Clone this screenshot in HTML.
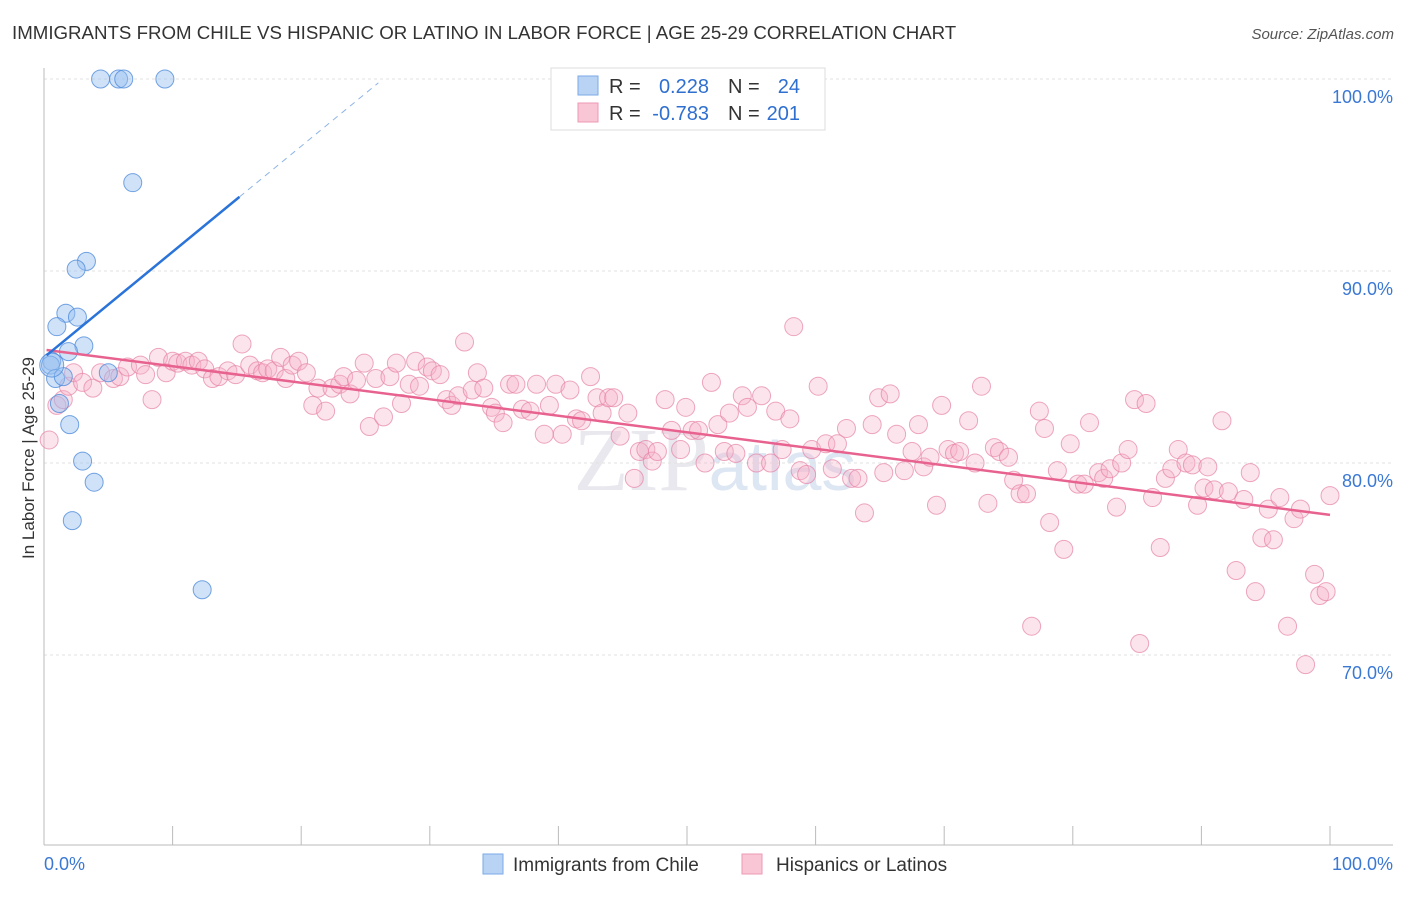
<!DOCTYPE html>
<html><head><meta charset="utf-8"><style>
body{margin:0;background:#fff;width:1406px;height:892px;overflow:hidden;font-family:"Liberation Sans",sans-serif}
</style></head><body>
<svg id="chart" width="1406" height="892" xmlns="http://www.w3.org/2000/svg" font-family="Liberation Sans, sans-serif">
<text x="12" y="39" font-size="18.7" fill="#333">IMMIGRANTS FROM CHILE VS HISPANIC OR LATINO IN LABOR FORCE | AGE 25-29 CORRELATION CHART</text>
<text x="1394" y="39" font-size="15" fill="#555" text-anchor="end" font-style="italic">Source: ZipAtlas.com</text>
<text x="715" y="490" font-size="90" fill="#e8e8ee" text-anchor="middle" font-family="Liberation Serif, serif">ZIP<tspan fill="#dde6f3" font-family="Liberation Sans, sans-serif" font-size="70">atlas</tspan></text>
<g id="grid"></g>
<g id="axes"></g>
<g id="marks"></g>
<text transform="translate(34,458) rotate(-90)" font-size="17" fill="#333" text-anchor="middle">In Labor Force | Age 25-29</text>
<g>
<rect x="551" y="68" width="274" height="62" fill="#fff" stroke="#ddd"/>
<rect x="578" y="76" width="20" height="19" fill="#b9d3f5" stroke="#7aa9e6"/>
<rect x="578" y="103" width="20" height="19" fill="#f8c6d5" stroke="#ee9ab5"/>
<text x="609" y="93" font-size="20" fill="#333">R =</text>
<text x="709" y="93" font-size="20" fill="#2f6fd0" text-anchor="end">0.228</text>
<text x="728" y="93" font-size="20" fill="#333">N =</text>
<text x="800" y="93" font-size="20" fill="#2f6fd0" text-anchor="end">24</text>
<text x="609" y="120" font-size="20" fill="#333">R =</text>
<text x="709" y="120" font-size="20" fill="#2f6fd0" text-anchor="end">-0.783</text>
<text x="728" y="120" font-size="20" fill="#333">N =</text>
<text x="800" y="120" font-size="20" fill="#2f6fd0" text-anchor="end">201</text>
</g>
<g>
<rect x="483" y="854" width="20" height="20" fill="#b9d3f5" stroke="#7aa9e6"/>
<text x="513" y="871" font-size="19" fill="#333">Immigrants from Chile</text>
<rect x="742" y="854" width="20" height="20" fill="#f8c6d5" stroke="#ee9ab5"/>
<text x="776" y="871" font-size="19" fill="#333">Hispanics or Latinos</text>
</g>
</svg>
<script>
const yTicks=[100,90,80,70];
const yTickLabels=["100.0%","90.0%","80.0%","70.0%"];
const xTicks=[0,10,20,30,40,50,60,70,80,90,100];
const xEndLabels=["0.0%","100.0%"];
const blueX=[4.4,5.8,6.2,9.4,6.9,3.3,2.5,1.7,2.6,1.0,3.1,1.9,0.6,0.5,0.9,1.5,5.0,2.0,3.0,3.9,2.2,12.3,0.6,1.2];
const blueY=[100,100,100,100,94.6,90.5,90.1,87.8,87.6,87.1,86.1,85.8,85.3,85.1,84.4,84.5,84.7,82.0,80.1,79.0,77.0,73.4,85.1,83.1];
const pinkX=[0.4,1.0,1.5,1.9,2.3,3.0,3.8,4.4,5.4,5.9,6.5,7.5,7.9,8.4,8.9,9.5,10.0,10.4,11.0,11.5,12.0,12.5,13.1,13.6,14.3,14.9,15.4,16.0,16.6,17.0,17.4,17.9,18.4,18.8,19.3,19.8,20.4,20.9,21.3,21.9,22.4,23.0,23.3,23.8,24.3,24.9,25.3,25.8,26.4,26.9,27.4,27.8,28.4,28.9,29.2,29.8,30.2,30.8,31.3,31.7,32.2,32.7,33.3,33.7,34.2,34.8,35.1,35.7,36.2,36.7,37.2,37.8,38.3,38.9,39.3,39.8,40.3,40.9,41.4,41.8,42.5,43.0,43.4,43.9,44.3,44.8,45.4,45.9,46.3,46.8,47.3,47.7,48.3,48.8,49.5,49.9,50.4,50.9,51.4,51.9,52.4,52.9,53.3,53.8,54.3,54.7,55.4,55.8,56.5,56.9,57.4,58.0,58.3,58.8,59.3,59.7,60.2,60.8,61.3,61.7,62.4,62.8,63.3,63.8,64.4,64.9,65.3,65.8,66.3,66.9,67.5,68.0,68.4,68.9,69.4,69.8,70.3,70.8,71.2,71.9,72.4,72.9,73.4,73.9,74.3,75.0,75.4,75.9,76.4,76.8,77.4,77.8,78.2,78.8,79.3,79.8,80.4,80.9,81.3,82.0,82.4,82.9,83.4,83.8,84.3,84.8,85.2,85.7,86.2,86.8,87.2,87.7,88.2,88.8,89.3,89.7,90.2,90.5,91.0,91.6,92.1,92.7,93.3,93.8,94.2,94.7,95.2,95.6,96.1,96.7,97.2,97.7,98.1,98.8,99.2,99.7,100];
const pinkY=[81.2,83.0,83.3,84.0,84.7,84.2,83.9,84.7,84.4,84.5,85.0,85.1,84.6,83.3,85.5,84.7,85.3,85.2,85.3,85.1,85.3,84.9,84.4,84.5,84.8,84.6,86.2,85.1,84.8,84.7,84.9,84.8,85.5,84.4,85.1,85.3,84.7,83.0,83.9,82.7,83.9,84.1,84.5,83.6,84.3,85.2,81.9,84.4,82.4,84.5,85.2,83.1,84.1,85.3,84.0,85.0,84.8,84.6,83.3,83.0,83.5,86.3,83.8,84.7,83.9,82.9,82.6,82.1,84.1,84.1,82.8,82.7,84.1,81.5,83.0,84.1,81.5,83.8,82.3,82.2,84.5,83.4,82.6,83.4,83.4,81.4,82.6,79.2,80.6,80.7,80.1,80.6,83.3,81.7,80.7,82.9,81.7,81.7,80.0,84.2,82.0,80.6,82.6,80.5,83.5,82.9,80.0,83.5,80.0,82.7,80.7,82.3,87.1,79.6,79.4,80.7,84.0,81.0,79.7,81.0,81.8,79.2,79.2,77.4,82.0,83.4,79.5,83.6,81.5,79.6,80.6,82.0,79.8,80.3,77.8,83.0,80.7,80.5,80.6,82.2,80.0,84.0,77.9,80.8,80.6,80.3,79.1,78.4,78.4,71.5,82.7,81.8,76.9,79.6,75.5,81.0,78.9,78.9,82.1,79.5,79.2,79.7,77.7,80.0,80.7,83.3,70.6,83.1,78.2,75.6,79.2,79.7,80.7,80.0,79.9,77.8,78.7,79.8,78.6,82.2,78.5,74.4,78.1,79.5,73.3,76.1,77.6,76.0,78.2,71.5,77.1,77.6,69.5,74.2,73.1,73.3,78.3];
const pinkTrend=[85.9,77.3];
const blueTrend=[85.5,0.55];
const blueSolidEnd=15.2, blueDashEnd=26;

const NS="http://www.w3.org/2000/svg";
const X=v=>44+v*12.86;
const Y=v=>79+(100-v)*19.2;
function mk(tag,attrs,parent){const e=document.createElementNS(NS,tag);for(const k in attrs)e.setAttribute(k,attrs[k]);parent.appendChild(e);return e;}
const grid=document.getElementById('grid'),axes=document.getElementById('axes'),marks=document.getElementById('marks');
yTicks.forEach((t,i)=>{
  const l=mk('line',{x1:44,x2:1393,y1:Y(t),y2:Y(t),stroke:'#e2e2e2','stroke-dasharray':'3,3'},grid);
  
  
  const tx=mk('text',{x:1393,y:Y(t)+24,'font-size':18,fill:'#3a78d4','text-anchor':'end'},axes);
  tx.textContent=yTickLabels[i];
  
  
});
const ax=mk('line',{x1:44,x2:1393,y1:845,y2:845,stroke:'#bbb'},axes);


const ay=mk('line',{x1:44,x2:44,y1:68,y2:845,stroke:'#bbb'},axes);


xTicks.forEach(t=>{
  const l=mk('line',{x1:X(t),x2:X(t),y1:826,y2:845,stroke:'#bbb'},axes);
  
  
});
const xl0=mk('text',{x:44,y:870,'font-size':18,fill:'#3a78d4'},axes);xl0.textContent=xEndLabels[0];


const xl1=mk('text',{x:1393,y:870,'font-size':18,fill:'#3a78d4','text-anchor':'end'},axes);xl1.textContent=xEndLabels[1];



pinkX.forEach((v,i)=>{
  const c=mk('circle',{cx:X(v),cy:Y(pinkY[i]),r:9,fill:'rgba(247,178,200,0.35)',stroke:'rgba(230,130,165,0.7)','stroke-width':1},marks);
  
  
});
blueX.forEach((v,i)=>{
  const c=mk('circle',{cx:X(v),cy:Y(blueY[i]),r:i===22?12:9,fill:'rgba(150,190,240,0.45)',stroke:'rgba(80,140,220,0.8)','stroke-width':1},marks);
  
  
});
const pt=mk('line',{x1:X(0.2),y1:Y(pinkTrend[0]+(pinkTrend[1]-pinkTrend[0])*0.002),x2:X(100),y2:Y(pinkTrend[1]),stroke:'#e8628f','stroke-width':2.5},marks);


const bt=mk('line',{x1:X(0.2),y1:Y(blueTrend[0]+blueTrend[1]*0.2),x2:X(blueSolidEnd),y2:Y(blueTrend[0]+blueTrend[1]*blueSolidEnd),stroke:'#2a73d9','stroke-width':2.5},marks);


const bd=mk('line',{x1:X(blueSolidEnd),y1:Y(blueTrend[0]+blueTrend[1]*blueSolidEnd),x2:X(blueDashEnd),y2:Y(blueTrend[0]+blueTrend[1]*blueDashEnd),stroke:'#8fb4e8','stroke-width':1,'stroke-dasharray':'6,5'},marks);


</script>
</body></html>
